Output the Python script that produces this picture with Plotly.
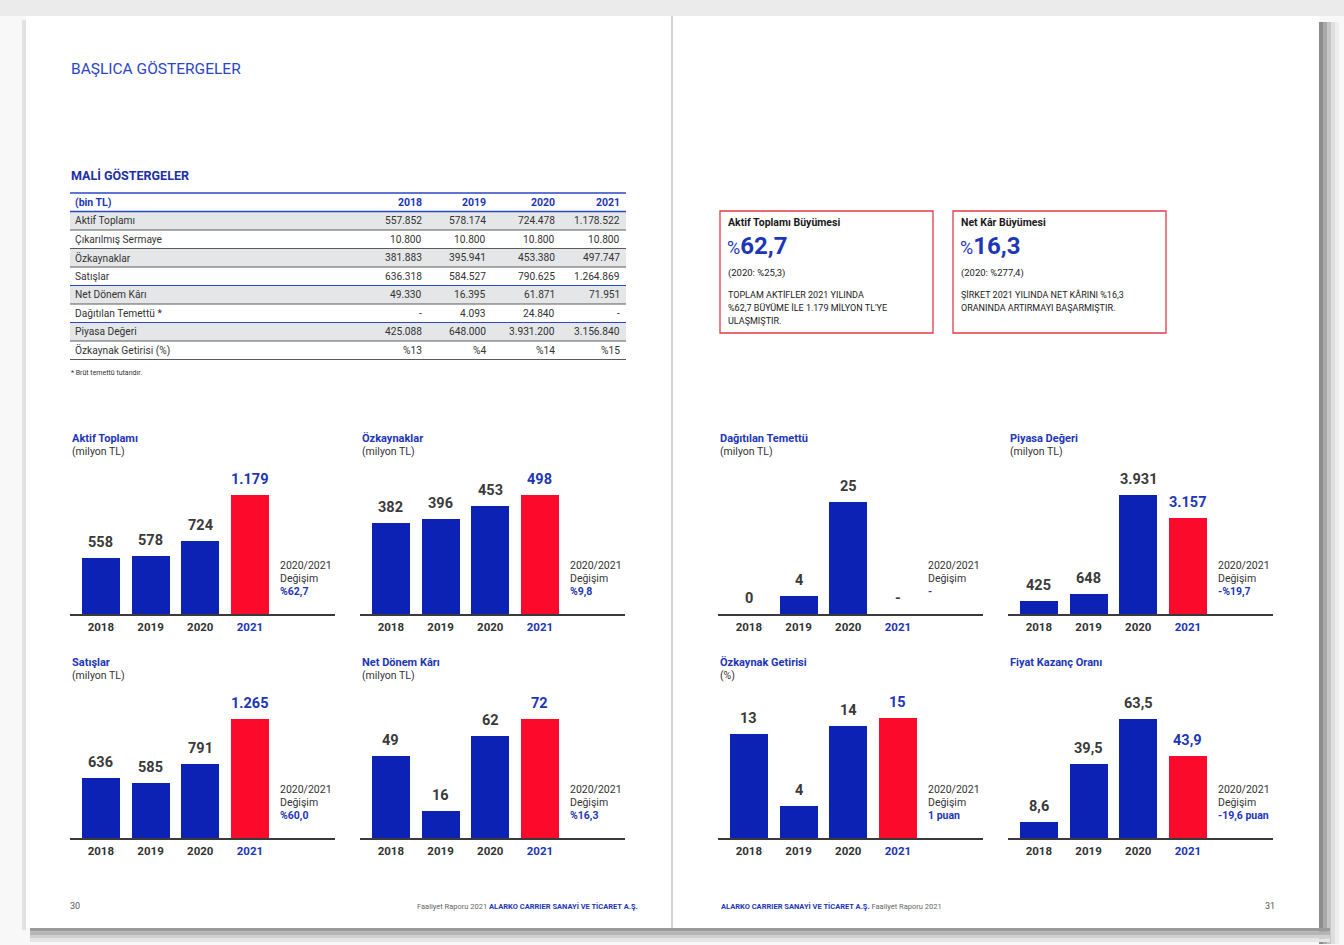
import plotly.graph_objects as go

W, H = 1344, 945

# ---------------- data ----------------
years = ["2018", "2019", "2020", "2021"]

row_labels = ["Aktif Toplamı", "Çıkarılmış Sermaye", "Özkaynaklar", "Satışlar",
              "Net Dönem Kârı", "Dağıtılan Temettü *", "Piyasa Değeri", "Özkaynak Getirisi (%)"]
# bin TL
aktif_toplami = [557852, 578174, 724478, 1178522]
cikarilmis_sermaye = [10800, 10800, 10800, 10800]
ozkaynaklar = [381883, 395941, 453380, 497747]
satislar = [636318, 584527, 790625, 1264869]
net_donem_kari = [49330, 16395, 61871, 71951]
dagitilan_temettu = [None, 4093, 24840, None]
piyasa_degeri = [425088, 648000, 3931200, 3156840]
ozkaynak_getirisi = [13, 4, 14, 15]          # %
fiyat_kazanc_orani = [8.6, 39.5, 63.5, 43.9]
temettu_chart_labels = ["0", "4", "25", "-"]

change_labels = ["%62,7", "%9,8", "-", "-%19,7", "%60,0", "%16,3", "1 puan", "-19,6 puan"]

box_titles = ["Aktif Toplamı Büyümesi", "Net Kâr Büyümesi"]
box_values = ["62,7", "16,3"]
box_prev = ["(2020: %25,3)", "(2020: %277,4)"]
box_body = [["TOPLAM AKTİFLER 2021 YILINDA", "%62,7 BÜYÜME İLE 1.179 MİLYON TL'YE", "ULAŞMIŞTIR."],
            ["ŞİRKET 2021 YILINDA NET KÂRINI %16,3", "ORANINDA ARTIRMAYI BAŞARMIŞTIR."]]

# ---------------- style ----------------
FONT = "Roboto"
BAR_BLUE = "#0c22b4"
BAR_RED = "#fc0a2c"
TXT_BLUE = "#1d36b8"
TITLE_BLUE = "#2a46c6"
DARK = "#333333"
ROW_GRAY = "#e4e6e8"
LINE_BLUE = "#2b47c4"
LINE_GRAY = "#5a5a5a"


def tr_int(n):
    return f"{n:,}".replace(",", ".")


def px(x):
    return x / W


def py(y):
    return 1 - y / H


shapes = []
annotations = []


def rect(x0, y0, x1, y1, fill, line=None, lw=0):
    shapes.append(dict(type="rect", xref="paper", yref="paper", x0=px(x0), x1=px(x1),
                       y0=py(y1), y1=py(y0), fillcolor=fill,
                       line=dict(color=line or fill, width=lw), layer="below"))


def hline(x0, x1, y, color, width):
    shapes.append(dict(type="line", xref="paper", yref="paper", x0=px(x0), x1=px(x1),
                       y0=py(y), y1=py(y), line=dict(color=color, width=width), layer="below"))


def text(x, y, s, size, color=DARK, anchor="left", bold=False, family=FONT):
    if bold:
        s = f"<b>{s}</b>"
    annotations.append(dict(xref="paper", yref="paper", x=px(x), y=py(y), text=s,
                            showarrow=False, xanchor=anchor, yanchor="middle",
                            font=dict(family=family, size=size, color=color)))


# ---------------- page background ----------------
rect(0, 0, W, 16, "#ebebeb")
for i, c in enumerate(["#8c8c8c", "#a9a9a9", "#c6c6c6", "#dedede", "#eeeeee"]):
    rect(1319 + i * 4, 22, 1323 + i * 4, 944, c)
for i, c in enumerate(["#9a9a9a", "#b5b5b5", "#d0d0d0", "#e6e6e6"]):
    rect(30, 928 + i * 3.5, 1330, 931.5 + i * 3.5, c)
rect(22, 20, 26, 930, "#e2e2e2")
rect(26, 16, 1319, 928, "#ffffff")
shapes.append(dict(type="line", xref="paper", yref="paper", x0=px(672), x1=px(672),
                   y0=py(928), y1=py(16), line=dict(color="#cfd4d4", width=2), layer="below"))

# ---------------- headings ----------------
text(69, 69, "BAŞLICA GÖSTERGELER", 15.5, TITLE_BLUE)
text(69, 176, "MALİ GÖSTERGELER", 12.5, "#1b2fa6", bold=True)

# ---------------- table ----------------
tbl_x0, tbl_x1 = 70, 626
col_right = [424, 488, 557, 622]
head_top, head_bot, row_h = 193, 211.5, 18.5
table_values = [aktif_toplami, cikarilmis_sermaye, ozkaynaklar, satislar,
                net_donem_kari, dagitilan_temettu, piyasa_degeri, ozkaynak_getirisi]

for r in range(len(row_labels)):
    top = head_bot + r * row_h
    if r % 2 == 0:
        rect(tbl_x0, top, tbl_x1, top + row_h, ROW_GRAY)
for r in range(1, len(row_labels) + 1):
    y = head_bot + r * row_h
    col = LINE_BLUE if r in (4, 6) else LINE_GRAY
    hline(tbl_x0, tbl_x1, y, col, 1)
hline(tbl_x0, tbl_x1, head_top, LINE_BLUE, 1.5)
hline(tbl_x0, tbl_x1, head_bot, LINE_BLUE, 1.5)

text(73, (head_top + head_bot) / 2, "(bin TL)", 10.5, TXT_BLUE, bold=True)
for c, yr in enumerate(years):
    text(col_right[c], (head_top + head_bot) / 2, yr, 10.5, TXT_BLUE, anchor="right", bold=True)

for r, (lab, vals) in enumerate(zip(row_labels, table_values)):
    yc = head_bot + r * row_h + row_h / 2
    text(73, yc, lab, 10.2, DARK)
    for c, v in enumerate(vals):
        if v is None:
            s = "-"
        elif lab.startswith("Özkaynak Getirisi"):
            s = f"%{v}"
        else:
            s = tr_int(v)
        text(col_right[c], yc, s, 10.2, DARK, anchor="right")

text(69, 373, "* Brüt temettü tutandır.", 7, DARK)

# ---------------- highlight boxes ----------------
for b, bx in enumerate([720, 953]):
    shapes.append(dict(type="rect", xref="paper", yref="paper", x0=px(bx), x1=px(bx + 213),
                       y0=py(333), y1=py(211), fillcolor="rgba(0,0,0,0)",
                       line=dict(color="#e23a48", width=1.3), layer="below"))
    text(bx + 6, 222, box_titles[b], 10.5, "#1a1a1a", bold=True)
    text(bx + 5, 246,
         f"<span style='font-size:18px'>%</span><b>{box_values[b]}</b>", 24, TXT_BLUE)
    text(bx + 6, 273, box_prev[b], 9.5, "#222222")
    for i, line in enumerate(box_body[b]):
        text(bx + 6, 295 + i * 13, line, 9, "#222222")

# ---------------- footer ----------------
text(75, 906, "30", 9, "#555555", anchor="center")
text(1270, 906, "31", 9, "#555555", anchor="center")
text(640, 906, "Faaliyet Raporu 2021 <b style='color:#1d36b8'>ALARKO CARRIER SANAYİ VE TİCARET A.Ş.</b>",
     7.5, "#666666", anchor="right")
text(719, 906, "<b style='color:#1d36b8'>ALARKO CARRIER SANAYİ VE TİCARET A.Ş.</b> Faaliyet Raporu 2021",
     7.5, "#666666", anchor="left")

# ---------------- bar charts ----------------
def mil(v):
    return [0 if x is None else x / 1000 for x in v]


def mil_labels(v):
    return [tr_int(round(x / 1000)) for x in v]


charts = [
    ("Aktif Toplamı", "(milyon TL)", mil(aktif_toplami), mil_labels(aktif_toplami)),
    ("Özkaynaklar", "(milyon TL)", mil(ozkaynaklar), mil_labels(ozkaynaklar)),
    ("Dağıtılan Temettü", "(milyon TL)", mil(dagitilan_temettu), temettu_chart_labels),
    ("Piyasa Değeri", "(milyon TL)", mil(piyasa_degeri), mil_labels(piyasa_degeri)),
    ("Satışlar", "(milyon TL)", mil(satislar), mil_labels(satislar)),
    ("Net Dönem Kârı", "(milyon TL)", mil(net_donem_kari), mil_labels(net_donem_kari)),
    ("Özkaynak Getirisi", "(%)", ozkaynak_getirisi, [str(v) for v in ozkaynak_getirisi]),
    ("Fiyat Kazanç Oranı", "", fiyat_kazanc_orani,
     [f"{v:.1f}".replace(".", ",") for v in fiyat_kazanc_orani]),
]

col_x = [70, 360, 718, 1008]
row_base = [614, 838]
max_bar_px = [119, 119, 112, 119, 119, 119, 120, 119]
PLOT_W, PLOT_H = 265, 150

fig = go.Figure()
layout = {}
for k, (title, unit, vals, labels) in enumerate(charts, start=1):
    x0 = col_x[(k - 1) % 4]
    base = row_base[(k - 1) // 4]
    idx = list(range(len(years)))
    colors = [BAR_BLUE] * 3 + [BAR_RED]
    fig.add_trace(go.Bar(x=idx, y=vals, width=0.765, marker=dict(color=colors, line=dict(width=0)),
                         xaxis=f"x{k}", yaxis=f"y{k}", hoverinfo="skip", showlegend=False))
    vmax = max(vals)
    layout[f"xaxis{k}"] = dict(
        domain=[px(x0), px(x0 + PLOT_W)], range=[-0.62, 4.71], anchor=f"y{k}",
        tickvals=idx,
        ticktext=years[:3] + [f"<span style='color:{TXT_BLUE}'>{years[3]}</span>"],
        tickfont=dict(family=FONT, size=11.5, color=DARK, weight="bold"),
        ticklabelstandoff=2,
        showline=True, linecolor="#3a3a3a", linewidth=1.5, showgrid=False,
        zeroline=False, ticks="", fixedrange=True)
    layout[f"yaxis{k}"] = dict(
        domain=[py(base), py(base - PLOT_H)], range=[0, vmax * PLOT_H / max_bar_px[k - 1]],
        anchor=f"x{k}", visible=False, fixedrange=True)
    for i, (v, lab) in enumerate(zip(vals, labels)):
        is_bar_2021 = i == 3 and v > 0
        annotations.append(dict(xref=f"x{k}", yref=f"y{k}", x=i, y=v, text=f"<b>{lab}</b>",
                                showarrow=False, xanchor="center", yanchor="bottom", yshift=5,
                                font=dict(family=FONT, size=14.5,
                                          color=TXT_BLUE if is_bar_2021 else "#3a3a3a")))
    # titles
    text(x0, base - 176, title, 11, TXT_BLUE, bold=True)
    if unit:
        text(x0, base - 163, unit, 10.5, DARK)
    # change text
    cx = x0 + 208
    text(cx, base - 49, "2020/2021", 10.5, DARK)
    text(cx, base - 36, "Değişim", 10.5, DARK)
    text(cx, base - 23, change_labels[k - 1], 10.5, TXT_BLUE, bold=True)

fig.update_layout(
    width=W, height=H, margin=dict(l=0, r=0, t=0, b=0),
    paper_bgcolor="#f8f8f8", plot_bgcolor="rgba(0,0,0,0)",
    font=dict(family=FONT), bargap=0, showlegend=False,
    shapes=shapes, annotations=annotations, **layout)

fig.write_html("out.html", config={"displayModeBar": False, "staticPlot": True},
               post_script="document.body.style.margin='0';document.body.style.overflow='hidden';")
